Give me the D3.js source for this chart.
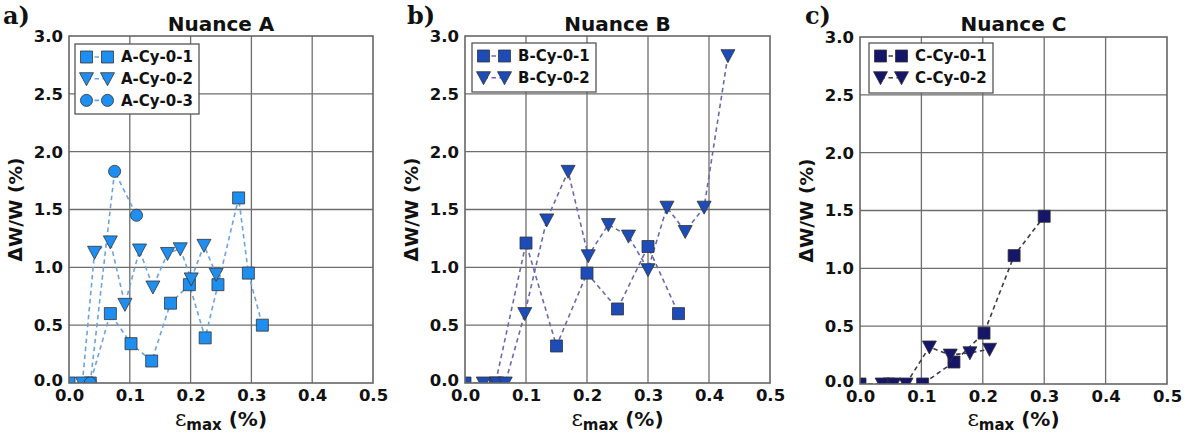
<!DOCTYPE html>
<html>
<head>
<meta charset="utf-8">
<script src="https://cdn.jsdelivr.net/npm/d3@7"></script>
<style>
body { margin: 0; background: #fff; }
svg { display: block; }
</style>
</head>
<body>
<svg id="chart" width="1189" height="434"></svg>
<script>
// ---------- data ----------
const xTicks = [0.0, 0.1, 0.2, 0.3, 0.4, 0.5];
const yTicks = [0.0, 0.5, 1.0, 1.5, 2.0, 2.5, 3.0];

const panelLabels = ["a)", "b)", "c)"];
const panelTitles = ["Nuance A", "Nuance B", "Nuance C"];

// Nuance A
const aCy01x = [0.000, 0.035, 0.068, 0.102, 0.136, 0.167, 0.198, 0.224, 0.245, 0.279, 0.295, 0.318];
const aCy01y = [0.00, 0.00, 0.60, 0.34, 0.19, 0.69, 0.85, 0.39, 0.85, 1.60, 0.95, 0.50];
const aCy02x = [0.022, 0.042, 0.068, 0.092, 0.116, 0.138, 0.162, 0.183, 0.201, 0.222, 0.242];
const aCy02y = [0.00, 1.13, 1.22, 0.68, 1.15, 0.83, 1.12, 1.16, 0.90, 1.19, 0.94];
const aCy03x = [0.035, 0.075, 0.111];
const aCy03y = [0.00, 1.83, 1.45];

// Nuance B
const bCy01x = [0.000, 0.050, 0.100, 0.150, 0.200, 0.250, 0.300, 0.350];
const bCy01y = [0.00, 0.00, 1.21, 0.32, 0.95, 0.64, 1.18, 0.60];
const bCy02x = [0.030, 0.052, 0.066, 0.098, 0.134, 0.169, 0.202, 0.235, 0.268, 0.300, 0.331, 0.361, 0.392, 0.431];
const bCy02y = [0.00, 0.00, 0.00, 0.60, 1.41, 1.83, 1.10, 1.37, 1.27, 0.98, 1.52, 1.31, 1.52, 2.83];

// Nuance C
const cCy01x = [0.000, 0.047, 0.102, 0.153, 0.202, 0.251, 0.300];
const cCy01y = [0.00, 0.00, 0.00, 0.19, 0.44, 1.11, 1.45];
const cCy02x = [0.036, 0.055, 0.075, 0.113, 0.147, 0.179, 0.211];
const cCy02y = [0.00, 0.00, 0.00, 0.32, 0.25, 0.27, 0.30];

const seriesNames = [
  ["A-Cy-0-1", "A-Cy-0-2", "A-Cy-0-3"],
  ["B-Cy-0-1", "B-Cy-0-2"],
  ["C-Cy-0-1", "C-Cy-0-2"]
];

// ---------- styling / layout ----------
const zip = (xs, ys) => xs.map((x, i) => ({x: x, y: ys[i]}));
const panels = [
  {left: 69, right: 373, top: 36, bottom: 383, fill: "#1e8ff0", line: "#6fa3d6",
   series: [zip(aCy01x, aCy01y), zip(aCy02x, aCy02y), zip(aCy03x, aCy03y)],
   shapes: ["square", "triangle", "circle"],
   legend: {x: 75, y: 44, w: 124, h: 70}},
  {left: 465, right: 770, top: 36, bottom: 383, fill: "#1d4cb8", line: "#6a6aa6",
   series: [zip(bCy01x, bCy01y), zip(bCy02x, bCy02y)],
   shapes: ["square", "triangle"],
   legend: {x: 472, y: 43, w: 124, h: 49}},
  {left: 860, right: 1167, top: 37, bottom: 384, fill: "#15156a", line: "#3a3a4a",
   series: [zip(cCy01x, cCy01y), zip(cCy02x, cCy02y)],
   shapes: ["square", "triangle"],
   legend: {x: 869, y: 43, w: 124, h: 50}}
];

const svg = d3.select("#chart");
const sansBold = "'DejaVu Sans', sans-serif";

function markerPath(shape) {
  if (shape === "square") return "M-6,-6H6V6H-6Z";
  if (shape === "triangle") return "M-7,-6L7,-6L0,7Z";
  return d3.symbol().type(d3.symbolCircle).size(115)();
}

panels.forEach((p, pi) => {
  const x = d3.scaleLinear().domain([0, 0.5]).range([p.left, p.right]);
  const y = d3.scaleLinear().domain([0, 3]).range([p.bottom, p.top]);
  const g = svg.append("g");

  // clip
  const clipId = "clip" + pi;
  svg.append("clipPath").attr("id", clipId).append("rect")
    .attr("x", p.left).attr("y", p.top)
    .attr("width", p.right - p.left).attr("height", p.bottom - p.top);

  // grid
  g.append("g").selectAll("line").data(xTicks.slice(1, -1)).join("line")
    .attr("x1", d => x(d)).attr("x2", d => x(d))
    .attr("y1", p.top).attr("y2", p.bottom)
    .attr("stroke", "#6e6e6e").attr("stroke-width", 1.3);
  g.append("g").selectAll("line").data(yTicks.slice(1, -1)).join("line")
    .attr("y1", d => y(d)).attr("y2", d => y(d))
    .attr("x1", p.left).attr("x2", p.right)
    .attr("stroke", "#6e6e6e").attr("stroke-width", 1.3);

  // axes (tick labels via d3 axis)
  const xAxis = d3.axisBottom(x).tickValues(xTicks).tickFormat(d3.format(".1f")).tickSize(0).tickPadding(5);
  const yAxis = d3.axisLeft(y).tickValues(yTicks).tickFormat(d3.format(".1f")).tickSize(0).tickPadding(6);
  const gx = g.append("g").attr("transform", `translate(0,${p.bottom})`).call(xAxis);
  const gy = g.append("g").attr("transform", `translate(${p.left},0)`).call(yAxis);
  [gx, gy].forEach(a => {
    a.select(".domain").remove();
    a.selectAll("text").attr("font-family", sansBold).attr("font-weight", "bold")
      .attr("font-size", 16.5).attr("fill", "#111");
  });
  gy.selectAll("text").attr("dy", "0.33em");
  gy.selectAll(".tick").filter(d => d === 0).select("text").attr("dy", "0.15em");
  gx.selectAll("text").attr("dy", "0.78em");

  // series
  const line = d3.line().x(d => x(d.x)).y(d => y(d.y));
  const plot = g.append("g").attr("clip-path", `url(#${clipId})`);
  p.series.forEach((s, si) => {
    plot.append("path").datum(s).attr("d", line)
      .attr("fill", "none").attr("stroke", p.line).attr("stroke-width", 1.6)
      .attr("stroke-dasharray", "4.5,3.5");
  });
  p.series.forEach((s, si) => {
    plot.append("g").selectAll("path").data(s).join("path")
      .attr("transform", d => `translate(${x(d.x)},${y(d.y)})`)
      .attr("d", markerPath(p.shapes[si]))
      .attr("fill", p.fill).attr("stroke", "#333").attr("stroke-width", 0.8);
  });

  // frame
  g.append("rect").attr("x", p.left).attr("y", p.top)
    .attr("width", p.right - p.left).attr("height", p.bottom - p.top)
    .attr("fill", "none").attr("stroke", "#666").attr("stroke-width", 1.6);

  // legend
  const L = p.legend;
  const lg = g.append("g");
  lg.append("rect").attr("x", L.x).attr("y", L.y).attr("width", L.w).attr("height", L.h)
    .attr("fill", "#fff").attr("stroke", "#555").attr("stroke-width", 1.3);
  seriesNames[pi].forEach((name, si) => {
    const cy = L.y + 13 + si * 21.7;
    const mx1 = L.x + 11.5, mx2 = L.x + 32.5;
    lg.append("line").attr("x1", mx1).attr("x2", mx2).attr("y1", cy).attr("y2", cy)
      .attr("stroke", p.line).attr("stroke-width", 1.6).attr("stroke-dasharray", "4.5,3.5");
    [mx1, mx2].forEach(mx => {
      lg.append("path").attr("transform", `translate(${mx},${cy})`)
        .attr("d", markerPath(p.shapes[si]))
        .attr("fill", p.fill).attr("stroke", "#333").attr("stroke-width", 0.8);
    });
    lg.append("text").attr("x", L.x + 46).attr("y", cy).attr("dy", "0.36em")
      .attr("font-family", sansBold).attr("font-weight", "bold").attr("font-size", 15)
      .attr("fill", "#111").text(name);
  });

  // title
  g.append("text").attr("x", (p.left + p.right) / 2).attr("y", 31)
    .attr("text-anchor", "middle").attr("font-family", sansBold).attr("font-weight", "bold")
    .attr("font-size", 20).attr("fill", "#111").text(panelTitles[pi]);

  // panel label
  const labelX = [3, 407, 805][pi];
  g.append("text").attr("x", labelX).attr("y", 24)
    .attr("font-family", "'DejaVu Serif', serif").attr("font-weight", "bold")
    .attr("font-size", 24).attr("fill", "#111").text(panelLabels[pi]);

  // y label
  const ylx = p.left - 47;
  g.append("text").attr("transform", `translate(${ylx},${(p.top + p.bottom) / 2}) rotate(-90)`)
    .attr("text-anchor", "middle").attr("font-family", sansBold).attr("font-weight", "bold")
    .attr("font-size", 18.5).attr("fill", "#111").text("ΔW/W (%)");

  // x label
  const xl = g.append("text").attr("x", (p.left + p.right) / 2).attr("y", 426)
    .attr("text-anchor", "middle").attr("font-family", sansBold).attr("font-weight", "bold")
    .attr("font-size", 20).attr("fill", "#111");
  xl.append("tspan").attr("font-family", "'DejaVu Serif', serif").attr("font-weight", "normal").attr("font-size", 22).text("ε");
  xl.append("tspan").attr("font-size", 15).attr("dy", 4).text("max");
  xl.append("tspan").attr("dy", -4).text(" (%)");
});
</script>
</body>
</html>
